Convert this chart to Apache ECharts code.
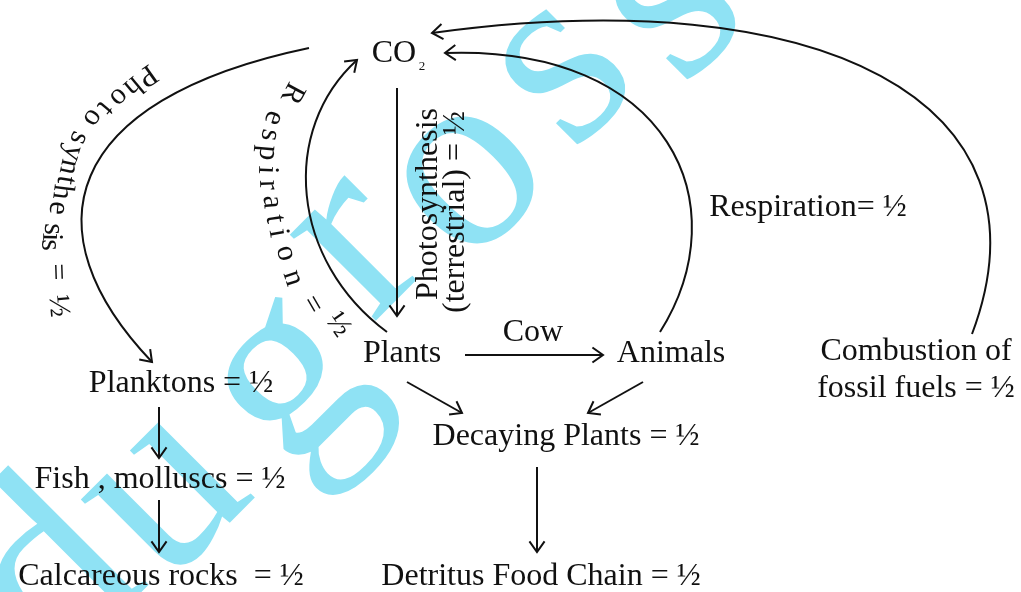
<!DOCTYPE html>
<html>
<head>
<meta charset="utf-8">
<script src="https://cdn.jsdelivr.net/npm/echarts@6/dist/echarts.min.js"></script>
<style>
  html, body { margin: 0; padding: 0; background: #fff; }
  #chart { width: 1021px; height: 592px; }
</style>
</head>
<body>
<div id="chart"></div>
<script>
// picture units: x to the right, y downwards (the y axis is inverted)

// node labels
const labelText = ['CO', 'Plants', 'Cow', 'Animals', 'Decaying Plants = ½', 'Detritus Food Chain = ½',
  'Planktons = ½', 'Fish , molluscs = ½', 'Calcareous rocks  = ½', 'Respiration= ½',
  'Combustion of\nfossil fuels = ½', 'Photosynthesis', '(terrestrial) = ½'];
const labelX = [394, 402, 533, 671, 566, 541, 181, 160, 161, 808, 916, 429, 456];
const labelY = [54, 354, 333, 354, 437, 577, 384, 480, 577, 208, 370, 204, 212];
const labelRot = [0, 0, 0, 0, 0, 0, 0, 0, 0, 0, 0, 90, 90];

// subscript of CO2
const subText = ['2'];
const subX = [422];
const subY = [67];

// letters written along the two left arcs
const arcText = ['P', 'h', 'o', 't', 'o', 's', 'y', 'n', 't', 'h', 'e', 's', 'i', 's', '=', '½',
  'R', 'e', 's', 'p', 'i', 'r', 'a', 't', 'i', 'o', 'n', '=', '½'];
const arcX = [147, 133, 119, 105, 93, 79, 73, 69, 66, 62, 58, 53, 51, 50, 57, 58,
  292, 274, 270, 268, 267, 268, 272, 275, 278, 286, 293, 312, 338];
const arcY = [75, 86, 97, 108, 118, 138, 153, 167, 180, 192, 208, 229, 237, 245, 272, 306,
  93, 118, 135, 153, 170, 185, 202, 219, 233, 253, 278, 305, 325];
const arcRot = [-145, -140, -135, -130, -125, -112, -106, -102, -99, -97, -95, -92, -91, -90, -88, -85,
  -118, -108, -100, -95, -92, -88, -85, -82, -80, -76, -72, -60, -55];

// arrows: start, end and (for curved ones) two bend points
const arrowStart = [[397, 88], [465, 355], [407, 382], [643, 382], [537, 467], [159, 407], [159, 500],
  [309, 48], [387, 332], [660, 332], [972, 334]];
const arrowEnd = [[397, 316], [603, 355], [462, 413], [588, 413], [537, 552], [159, 458], [159, 552],
  [152, 362], [357, 60], [445, 53], [432, 33]];
const arrowBend1 = [null, null, null, null, null, null, null, [60, 100], [290, 260], [740, 205], [1060, 100]];
const arrowBend2 = [null, null, null, null, null, null, null, [28, 232], [280, 130], [670, 45], [820, -20]];

// watermark letters
const markText = ['d', 'u', 'g', 'r', 'o', 's', 's'];
const markX = [55, 162, 286, 354, 464, 559, 669];
const markY = [580, 492, 380, 244, 174, 69, 4];

const ink = '#111';
const serif = '"Liberation Serif", "Times New Roman", serif';

const arrowData = arrowStart.map((s, i) => {
  const e = arrowEnd[i];
  const b1 = arrowBend1[i] || s;
  const b2 = arrowBend2[i] || e;
  return [s[0], s[1], e[0], e[1], b1[0], b1[1], b2[0], b2[1], arrowBend1[i] ? 1 : 0];
});

function drawArrow(params, api) {
  const p0 = api.coord([api.value(0), api.value(1)]);
  const p1 = api.coord([api.value(2), api.value(3)]);
  const lineStyle = { stroke: ink, lineWidth: 2, fill: null };
  const children = [];
  let from = p0;
  if (api.value(8) === 1) {
    const c1 = api.coord([api.value(4), api.value(5)]);
    const c2 = api.coord([api.value(6), api.value(7)]);
    children.push({
      type: 'bezierCurve',
      shape: { x1: p0[0], y1: p0[1], x2: p1[0], y2: p1[1], cpx1: c1[0], cpy1: c1[1], cpx2: c2[0], cpy2: c2[1] },
      style: lineStyle
    });
    from = c2;
  } else {
    children.push({ type: 'line', shape: { x1: p0[0], y1: p0[1], x2: p1[0], y2: p1[1] }, style: lineStyle });
  }
  const ang = Math.atan2(p1[1] - from[1], p1[0] - from[0]);
  const len = 13, spread = 0.62;
  children.push({
    type: 'polyline',
    shape: {
      points: [
        [p1[0] - len * Math.cos(ang - spread), p1[1] - len * Math.sin(ang - spread)],
        [p1[0], p1[1]],
        [p1[0] - len * Math.cos(ang + spread), p1[1] - len * Math.sin(ang + spread)]
      ]
    },
    style: lineStyle
  });
  return { type: 'group', children };
}

function textSeries(texts, xs, ys, rots, size, color, z) {
  return {
    type: 'custom',
    coordinateSystem: 'cartesian2d',
    silent: true,
    z: z,
    data: texts.map((t, i) => [xs[i], ys[i], rots ? rots[i] : 0]),
    renderItem: (params, api) => {
      const p = api.coord([api.value(0), api.value(1)]);
      return {
        type: 'text',
        x: p[0],
        y: p[1],
        rotation: api.value(2) * Math.PI / 180,
        style: {
          text: texts[params.dataIndex],
          font: size + 'px ' + serif,
          fill: color,
          align: 'center',
          verticalAlign: 'middle',
          lineHeight: 37
        }
      };
    }
  };
}

const chart = echarts.init(document.getElementById('chart'));
chart.setOption({
  animation: false,
  backgroundColor: '#fff',
  grid: { left: 0, right: 0, top: 0, bottom: 0 },
  xAxis: { type: 'value', min: 0, max: 1021, show: false },
  yAxis: { type: 'value', min: 0, max: 592, inverse: true, show: false },
  series: [
    textSeries(markText, markX, markY, markText.map(() => 45), 265, '#8fe2f4', 1),
    {
      type: 'custom',
      coordinateSystem: 'cartesian2d',
      silent: true,
      z: 4,
      data: arrowData,
      renderItem: drawArrow
    },
    textSeries(labelText, labelX, labelY, labelRot, 32, ink, 5),
    textSeries(subText, subX, subY, null, 13, ink, 5),
    textSeries(arcText, arcX, arcY, arcRot, 30, ink, 5)
  ]
});
</script>
</body>
</html>
